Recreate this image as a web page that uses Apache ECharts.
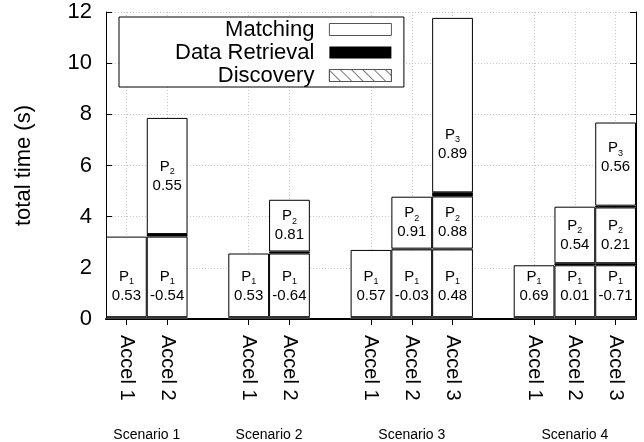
<!DOCTYPE html>
<html><head><meta charset="utf-8">
<script src="https://cdn.jsdelivr.net/npm/echarts@6/dist/echarts.min.js"></script>
<style>html,body{margin:0;padding:0;background:#fff}#c{width:644px;height:442px}</style>
</head><body><div id="c"></div>
<script>
// ---- data ----
const categories = ['Accel 1','Accel 2','','Accel 1','Accel 2','','Accel 1','Accel 2','Accel 3','','Accel 1','Accel 2','Accel 3'];
const scenarios = ['Scenario 1','Scenario 2','Scenario 3','Scenario 4'];
const discovery  = [0.02,0.02,null,0.02,0.02,null,0.02,0.02,0.02,null,0.02,0.02,0.02];
const retrieval1 = [0.05,0.05,null,0.05,0.05,null,0.05,0.05,0.05,null,0.05,0.05,0.05];
const matching1  = [3.15,3.15,null,2.49,2.49,null,2.63,2.65,2.65,null,2.03,2.03,2.03];
const retrieval2 = [null,0.10,null,null,0.08,null,null,0.03,0.03,null,null,0.08,0.08];
const matching2  = [null,4.54,null,null,2.02,null,null,2.03,2.04,null,null,2.21,2.18];
const retrieval3 = [null,null,null,null,null,null,null,null,0.16,null,null,null,0.07];
const matching3  = [null,null,null,null,null,null,null,null,6.82,null,null,null,3.25];
const p1Labels = ['0.53','-0.54',null,'0.53','-0.64',null,'0.57','-0.03','0.48',null,'0.69','0.01','-0.71'];
const p2Labels = [null,'0.55',null,null,'0.81',null,null,'0.91','0.88',null,null,'0.54','0.21'];
const p3Labels = [null,null,null,null,null,null,null,null,'0.89',null,null,null,'0.56'];
const yMin = 0, yMax = 12, yStep = 2;

// ---- chart ----
const FONT = '"Liberation Sans", Arial, Helvetica, sans-serif';
// scenario centres derived from category groups
const groupCenters = [];
(function(){ let start = null; categories.forEach((c,i)=>{ if(c!=='' && start===null) start=i; if((c===''||i===categories.length-1) && start!==null){ const end = c===''? i : i+1; groupCenters.push((start+end)/2); start=null; } }); })();

const rich = {
  p: {fontSize:15, lineHeight:19, color:'#000', fontFamily:FONT},
  s: {fontSize:9, lineHeight:11, verticalAlign:'bottom', color:'#000', fontFamily:FONT},
  v: {fontSize:15, lineHeight:19, color:'#000', fontFamily:FONT}
};
function labelFor(arr, n){
  return function(p){ const t = arr[p.dataIndex]; return t==null ? '' : '{p|P}{s|'+n+'}\n{v|'+t+'}'; };
}
const base = {type:'bar', stack:'t', barWidth:'100%', barCategoryGap:0, xAxisIndex:0, yAxisIndex:0};
const matchStyle = {color:'#fff', borderColor:'#000', borderWidth:1};
const retStyle = {color:'#000'};
const hatch = {symbol:'rect', symbolSize:1, dashArrayX:[1,0], dashArrayY:[1,7], rotation:Math.PI/4, color:'#777'};

const series = [
  Object.assign({}, base, {name:'Discovery', data:discovery, itemStyle:{color:'#fff', decal:hatch}}),
  Object.assign({}, base, {name:'Data Retrieval', data:retrieval1, itemStyle:retStyle}),
  Object.assign({}, base, {name:'Matching', data:matching1, itemStyle:matchStyle,
    label:{show:true, position:'insideBottom', distance:12, formatter:labelFor(p1Labels,1), rich:rich}}),
  Object.assign({}, base, {name:'Data Retrieval', data:retrieval2, itemStyle:retStyle}),
  Object.assign({}, base, {name:'Matching', data:matching2, itemStyle:matchStyle,
    label:{show:true, position:'inside', formatter:labelFor(p2Labels,2), rich:rich}}),
  Object.assign({}, base, {name:'Data Retrieval', data:retrieval3, itemStyle:retStyle}),
  Object.assign({}, base, {name:'Matching', data:matching3, itemStyle:matchStyle,
    label:{show:true, position:'insideBottom', distance:29, formatter:labelFor(p3Labels,3), rich:rich}})
];

const notGap = function(i, v){ return v !== ''; };
const option = {
  animation:false,
  textStyle:{fontFamily:FONT},
  grid:{left:106, right:8, top:12, bottom:122.5},
  legend:{
    data:[
      {name:'Matching', itemStyle:{borderColor:'#555', borderWidth:1}},
      {name:'Data Retrieval'},
      {name:'Discovery', itemStyle:{borderColor:'#555', borderWidth:1}}],
    orient:'vertical', left:119, top:17, align:'right', icon:'rect',
    itemWidth:62, itemHeight:12, itemGap:0,
    padding:[1,12,0,56],
    backgroundColor:'#fff', borderColor:'#000', borderWidth:1, borderRadius:0,
    textStyle:{fontSize:22, color:'#000', lineHeight:23, padding:[0,10,0,0], fontFamily:FONT},
    selectedMode:false
  },
  xAxis:[
    {type:'category', data:categories, position:'bottom',
      axisLine:{lineStyle:{color:'#000', width:2}}, axisTick:{show:false},
      axisLabel:{interval:0, rotate:-90, fontSize:20, color:'#000', margin:16, fontFamily:FONT},
      splitLine:{show:true, alignWithLabel:true, interval:notGap, lineStyle:{color:'#c8c8c8', type:[1,2]}}},
    {type:'category', data:categories, position:'top',
      axisLine:{lineStyle:{color:'#000', width:1}},
      axisTick:{show:true, inside:true, alignWithLabel:true, interval:notGap, length:6, lineStyle:{color:'#000'}},
      axisLabel:{show:false}, splitLine:{show:false}},
    {type:'value', min:0, max:categories.length, interval:0.5, position:'bottom', offset:101,
      axisLine:{show:false}, axisTick:{show:false}, splitLine:{show:false},
      axisLabel:{fontSize:14, color:'#000', fontFamily:FONT, showMinLabel:true, showMaxLabel:true,
        formatter:function(v){ const k = groupCenters.findIndex(c=>Math.abs(c-v)<1e-6); return k>=0 ? scenarios[k] : ''; }}}
  ],
  yAxis:[
    {type:'value', min:yMin, max:yMax, interval:yStep,
      axisLine:{show:true, lineStyle:{color:'#000'}},
      axisTick:{show:true, inside:true, length:6, lineStyle:{color:'#000'}},
      axisLabel:{fontSize:22, color:'#000', margin:14, fontFamily:FONT},
      splitLine:{show:true, lineStyle:{color:'#c8c8c8', type:[1,2]}},
      name:'total time (s)', nameLocation:'middle', nameGap:71,
      nameTextStyle:{fontSize:22, color:'#000', fontFamily:FONT}},
    {type:'value', min:yMin, max:yMax, interval:yStep, position:'right',
      axisLine:{show:true, lineStyle:{color:'#000'}},
      axisTick:{show:true, inside:true, length:6, lineStyle:{color:'#000'}},
      axisLabel:{show:false}, splitLine:{show:false}}
  ],
  series:series
};
const chart = echarts.init(document.getElementById('c'), null, {renderer:'canvas'});
chart.setOption(option);
</script></body></html>
